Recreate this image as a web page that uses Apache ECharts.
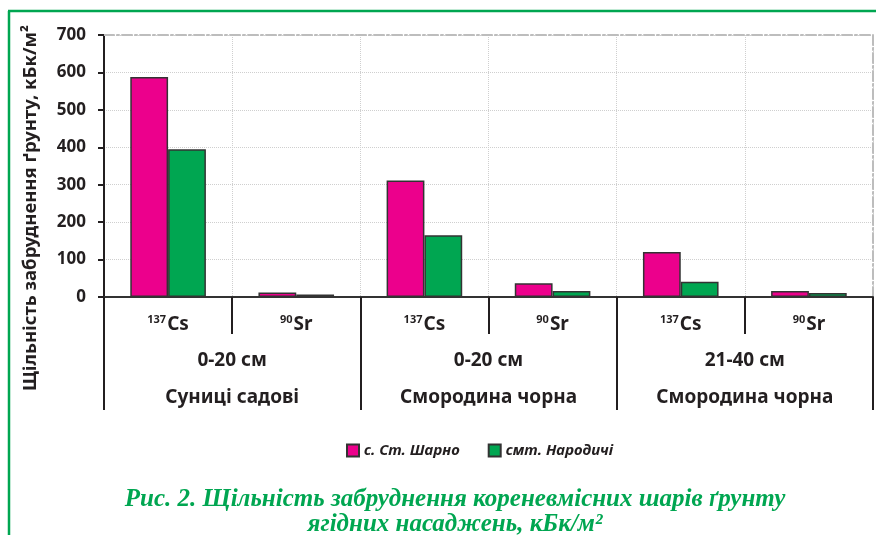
<!DOCTYPE html>
<html>
<head>
<meta charset="utf-8">
<script src="https://cdn.jsdelivr.net/npm/echarts@6/dist/echarts.min.js"></script>
<style>
html,body{margin:0;padding:0;background:#fff;}
#chart{width:876px;height:535px;}
</style>
</head>
<body>
<div id="chart"></div>
<script>
// ---- data ----
const isotopeMass = ['137', '90', '137', '90', '137', '90'];
const isotopeSym = ['Cs', 'Sr', 'Cs', 'Sr', 'Cs', 'Sr'];
const depthLabels = ['0-20 см', '0-20 см', '21-40 см'];
const cropLabels = ['Суниці садові', 'Смородина чорна', 'Смородина чорна'];
const seriesNames = ['с. Ст. Шарно', 'смт. Народичі'];
const sharnoValues = [588, 12, 311, 37, 120, 16];
const narodychiValues = [395, 7, 165, 16, 41, 11];
const yTicks = [0, 100, 200, 300, 400, 500, 600, 700];

const FONT = '"Noto Sans", "Open Sans", sans-serif';
const MAGENTA = '#EC008C';
const GREEN = '#00A651';

const chart = echarts.init(document.getElementById('chart'));
const option = {
  animation: false,
  backgroundColor: '#ffffff',
  title: {
    text: 'Рис. 2. Щільність забруднення кореневмісних шарів ґрунту\nягідних насаджень, кБк/м²',
    left: 450,
    top: 482,
    textAlign: 'center',
    textStyle: {
      fontFamily: '"Liberation Serif", "DejaVu Serif", serif',
      fontStyle: 'italic',
      fontWeight: 'bold',
      fontSize: 25,
      lineHeight: 25,
      color: GREEN
    }
  },
  legend: {
    data: seriesNames,
    left: 341,
    top: 438,
    orient: 'horizontal',
    itemWidth: 12,
    itemHeight: 12,
    itemGap: 28,
    icon: 'rect',
    textStyle: {
      fontFamily: FONT,
      fontStyle: 'italic',
      fontWeight: 'bold',
      fontSize: 15,
      color: '#231f20'
    }
  },
  grid: {
    left: 104,
    right: 3,
    top: 35,
    bottom: 238,
    containLabel: false
  },
  xAxis: [
    {
      type: 'category',
      data: isotopeSym.map((s, i) => isotopeMass[i] + s),
      position: 'bottom',
      axisLine: { show: true, lineStyle: { color: '#333', width: 2 } },
      axisTick: { show: true, length: 37, lineStyle: { color: '#231f20', width: 2 } },
      splitLine: { show: true, lineStyle: { color: '#cfcfcf', type: 'dotted', width: 1 } },
      axisLabel: {
        margin: 17,
        formatter: (v, i) => '{sup|' + isotopeMass[i] + '}{el|' + isotopeSym[i] + '}',
        rich: {
          sup: { fontFamily: FONT, fontWeight: 'bold', fontSize: 11, color: '#231f20', padding: [0, 1, 10, 0] },
          el: { fontFamily: FONT, fontWeight: 'bold', fontSize: 19, color: '#231f20' }
        }
      }
    },
    {
      type: 'category',
      data: depthLabels,
      position: 'bottom',
      axisLine: { show: false },
      axisTick: { show: true, length: 113, lineStyle: { color: '#231f20', width: 2 } },
      splitLine: { show: false },
      axisLabel: {
        margin: 45,
        formatter: (v, i) => '{a|' + depthLabels[i] + '}\n{b|' + cropLabels[i] + '}',
        rich: {
          a: { fontFamily: FONT, fontWeight: 'bold', fontSize: 19, color: '#231f20', lineHeight: 37 },
          b: { fontFamily: FONT, fontWeight: 'bold', fontSize: 19, color: '#231f20', lineHeight: 37 }
        }
      }
    },
    {
      type: 'category',
      data: depthLabels,
      position: 'top',
      axisLine: { show: true, lineStyle: { color: '#bdbdbd', width: 2, type: [10, 3, 2, 3] } },
      axisTick: { show: false },
      axisLabel: { show: false },
      splitLine: { show: false }
    }
  ],
  yAxis: [
    {
      type: 'value',
      min: 0,
      max: 700,
      interval: 100,
      position: 'left',
      axisLine: { show: true, lineStyle: { color: '#231f20', width: 2 } },
      axisTick: { show: true, length: 6, lineStyle: { color: '#231f20', width: 2 } },
      splitLine: { show: true, lineStyle: { color: '#cfcfcf', type: 'dotted', width: 1 } },
      axisLabel: {
        margin: 18,
        fontFamily: FONT,
        fontWeight: 'bold',
        fontSize: 17,
        color: '#231f20',
        formatter: v => (yTicks.indexOf(v) >= 0 ? String(v) : '')
      }
    },
    {
      type: 'value',
      min: 0,
      max: 700,
      interval: 100,
      position: 'right',
      axisLine: { show: true, lineStyle: { color: '#bdbdbd', width: 2, type: [10, 3, 2, 3] } },
      axisTick: { show: false },
      axisLabel: { show: false },
      splitLine: { show: false }
    }
  ],
  graphic: [
    {
      type: 'line',
      shape: { x1: 9, y1: 11, x2: 9, y2: 535 },
      style: { stroke: GREEN, lineWidth: 2.5 },
      silent: true
    },
    {
      type: 'line',
      shape: { x1: 8, y1: 11, x2: 876, y2: 11 },
      style: { stroke: GREEN, lineWidth: 2.5 },
      silent: true
    },
    {
      type: 'text',
      x: 31,
      y: 208,
      rotation: Math.PI / 2,
      style: {
        text: 'Щільність забруднення ґрунту, кБк/м²',
        fontFamily: FONT,
        fontWeight: 'bold',
        fontSize: 18.5,
        fill: '#231f20',
        align: 'center',
        verticalAlign: 'middle'
      }
    }
  ],
  series: [
    {
      name: seriesNames[0],
      type: 'bar',
      xAxisIndex: 0,
      yAxisIndex: 0,
      data: sharnoValues,
      barGap: '0%',
      barCategoryGap: '41%',
      itemStyle: { color: MAGENTA, borderColor: '#333', borderWidth: 1.5 }
    },
    {
      name: seriesNames[1],
      type: 'bar',
      xAxisIndex: 0,
      yAxisIndex: 0,
      data: narodychiValues,
      barGap: '0%',
      barCategoryGap: '41%',
      itemStyle: { color: GREEN, borderColor: '#333', borderWidth: 1.5 }
    }
  ]
};
chart.setOption(option);
</script>
</body>
</html>
